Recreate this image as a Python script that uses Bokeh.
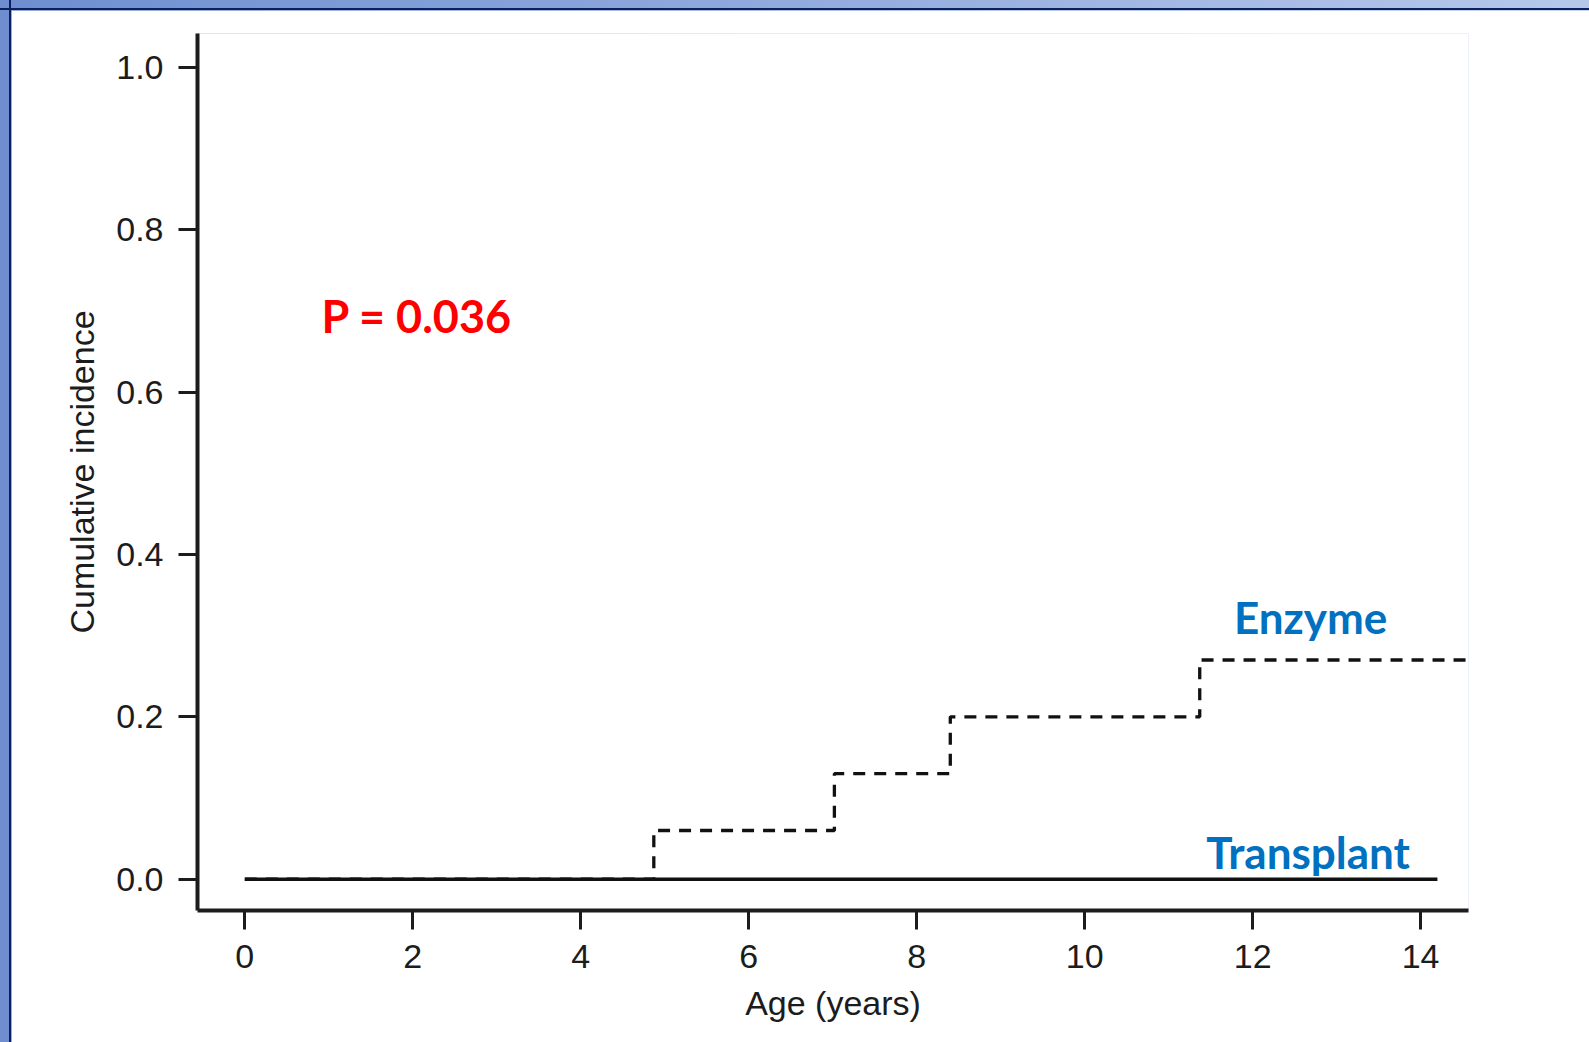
from bokeh.plotting import figure
from bokeh.models import Range1d, FixedTicker, GlobalInlineStyleSheet
from bokeh.core.properties import value
from bokeh.embed import file_html
from bokeh.resources import INLINE

# Data
enzyme_age = [0.0, 4.87, 7.02, 8.40, 11.37, 14.55]
enzyme_inc = [0.0, 0.06, 0.13, 0.20, 0.27, 0.27]
transplant_age = [0.0, 14.2]
transplant_inc = [0.0, 0.0]
x_ticks = [0, 2, 4, 6, 8, 10, 12, 14]
y_ticks = [0.0, 0.2, 0.4, 0.6, 0.8, 1.0]
y_tick_labels = ["0.0", "0.2", "0.4", "0.6", "0.8", "1.0"]
p_value_text = "P = 0.036"
series_names = ["Enzyme", "Transplant"]

AX = "#1c1c1c"
BLUE = "#0070C0"

p = figure(width=1578, height=1032, output_backend="svg", toolbar_location=None,
           x_range=Range1d(-0.563, 14.57), y_range=Range1d(-0.0385, 1.0415),
           min_border_left=186, min_border_top=23, min_border_right=121,
           min_border_bottom=132)
p.margin = (10, 0, 0, 11)

p.background_fill_color = "white"
p.border_fill_color = "white"
p.outline_line_color = None
p.grid.visible = False

# axes
for ax in (p.xaxis[0], p.yaxis[0]):
    ax.axis_line_color = AX
    ax.axis_line_width = 4
    ax.major_tick_line_color = AX
    ax.major_tick_line_width = 3
    ax.major_tick_out = 19
    ax.major_tick_in = 0
    ax.minor_tick_line_color = None
    ax.major_label_text_font = "Liberation Sans"
    ax.major_label_text_font_size = "34px"
    ax.major_label_text_color = AX
    ax.axis_label_text_font = "Liberation Sans"
    ax.axis_label_text_font_size = "34px"
    ax.axis_label_text_font_style = "normal"
    ax.axis_label_text_color = AX

p.xaxis.ticker = FixedTicker(ticks=x_ticks)
p.yaxis.ticker = FixedTicker(ticks=y_ticks)
p.yaxis.major_label_overrides = {t: s for t, s in zip(y_ticks, y_tick_labels)}
p.xaxis.major_label_overrides = {t: str(t) for t in x_ticks}
p.xaxis.axis_label = "Age (years)"
p.yaxis.axis_label = "Cumulative incidence"
p.xaxis.major_label_standoff = 15
p.yaxis.major_label_standoff = 15
p.xaxis.axis_label_standoff = 13
p.yaxis.axis_label_standoff = 12

# curves
p.step(enzyme_age, enzyme_inc, mode="after", line_color="#111111", line_width=3.3,
       line_dash="12 9")
p.line(transplant_age, transplant_inc, line_color="#111111", line_width=3.4)

# annotations
p.text(x=[2.05], y=[0.694], text=[p_value_text], text_color="#FF0000",
       text_font=value("Lato"), text_font_style="bold", text_font_size="45px",
       text_align="center", text_baseline="alphabetic")
p.text(x=[12.69, 12.66], y=[0.3225, 0.033], text=series_names, text_color=BLUE,
       text_font=value("Lato"), text_font_style="bold", text_font_size="44px",
       text_align="center", text_baseline="alphabetic")

# slide frame around the figure
p.stylesheets = [GlobalInlineStyleSheet(css="""
html, body { margin: 0; padding: 0; overflow: hidden; background:
  linear-gradient(#0c1f5e, #0c1f5e) 0 8px / 100% 2px no-repeat,
  linear-gradient(#0c1f5e, #0c1f5e) 9px 0 / 2px 100% no-repeat,
  linear-gradient(to right, #6e8ed0, #b6c8ea); }
""")]

open("out.html", "w").write(file_html(p, INLINE))
